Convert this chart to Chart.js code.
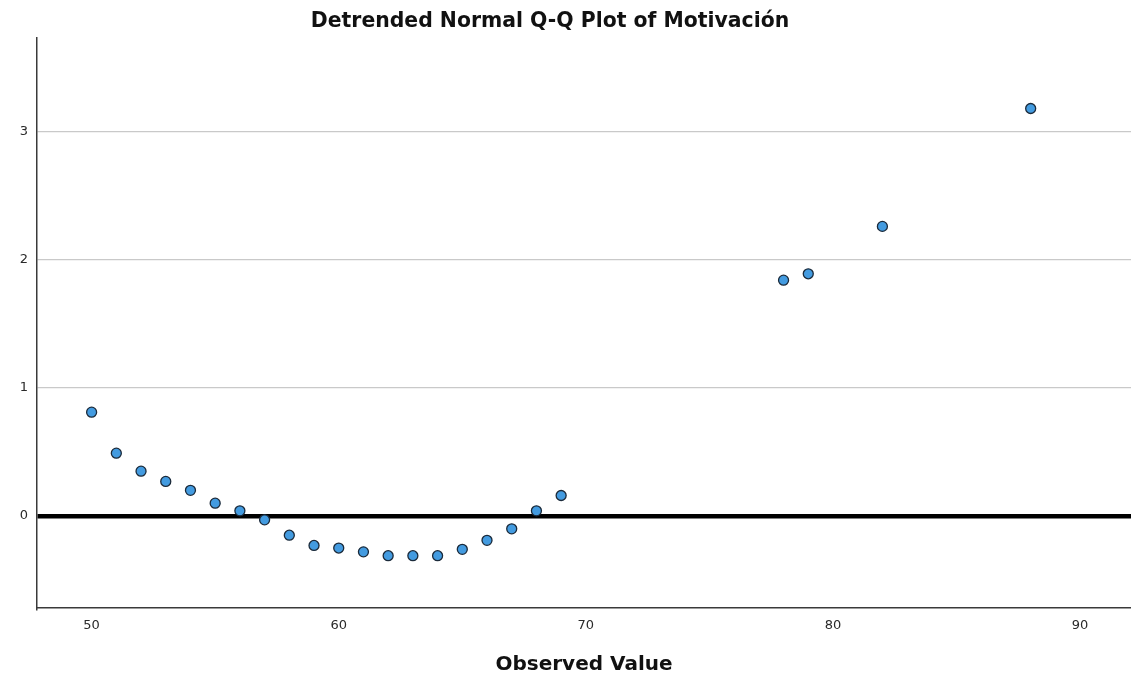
<!DOCTYPE html>
<html>
<head>
<meta charset="utf-8">
<script src="https://cdn.jsdelivr.net/npm/chart.js@4.4.1/dist/chart.umd.min.js"></script>
<style>
  html, body { margin: 0; padding: 0; background: #ffffff; }
  #wrap { width: 1131px; height: 678px; position: relative; }
</style>
</head>
<body>
<div id="wrap"><canvas id="qq" width="1131" height="678"></canvas></div>
<script>
// Observed values of Motivación and their deviation from the normal line
const observedValues = [50, 51, 52, 53, 54, 55, 56, 57, 58, 59, 60, 61, 62, 63, 64, 65, 66, 67, 68, 69, 78, 79, 82, 88];
const deviations = [0.81, 0.49, 0.35, 0.27, 0.20, 0.10, 0.04, -0.03, -0.15, -0.23, -0.25, -0.28, -0.31, -0.31, -0.31, -0.26, -0.19, -0.10, 0.04, 0.16, 1.84, 1.89, 2.26, 3.18];

// Axis tick labels
const xTicks = [50, 60, 70, 80, 90];
const yTicks = [0, 1, 2, 3];

const chartTitle = 'Detrended Normal Q-Q Plot of Motivación';
const xAxisTitle = 'Observed Value';

const points = observedValues.map((v, i) => ({ x: v, y: deviations[i] }));

// Title drawn above the plotting area
const titlePlugin = {
  id: 'topTitle',
  afterDraw(chart) {
    const c = chart.ctx;
    c.save();
    c.font = 'bold 20.4px "DejaVu Sans"';
    c.fillStyle = '#111111';
    c.textAlign = 'center';
    c.textBaseline = 'middle';
    c.fillText(chartTitle, 550, 22);
    c.restore();
  }
};

new Chart(document.getElementById('qq'), {
  type: 'scatter',
  data: {
    datasets: [{
      data: points,
      pointRadius: 5,
      pointHoverRadius: 5,
      pointBackgroundColor: '#439be0',
      pointBorderColor: '#1b2a3a',
      pointBorderWidth: 1.3
    }]
  },
  options: {
    responsive: false,
    animation: false,
    layout: { autoPadding: false, padding: { top: 38, right: 0, left: 0, bottom: 0 } },
    plugins: {
      legend: { display: false },
      tooltip: { enabled: false },
      title: { display: false }
    },
    scales: {
      x: {
        type: 'linear',
        min: 47.79,
        max: 92.06,
        afterBuildTicks(scale) { scale.ticks = xTicks.map(v => ({ value: v })); },
        afterFit(scale) { scale.height = 70; },
        grid: { display: false, drawTicks: false },
        border: { display: true, color: '#3a3a3a', width: 1.5 },
        ticks: {
          padding: 10,
          color: '#2a2a2a',
          font: { family: 'DejaVu Sans', size: 13 },
          maxRotation: 0
        },
        title: {
          display: true,
          text: xAxisTitle,
          color: '#111111',
          font: { family: 'DejaVu Sans', size: 20, weight: 'bold' },
          padding: { top: 0, bottom: 1 }
        }
      },
      y: {
        type: 'linear',
        min: -0.718,
        max: 3.73,
        afterBuildTicks(scale) { scale.ticks = yTicks.map(v => ({ value: v })); },
        afterFit(scale) { scale.width = 37; },
        grid: {
          drawTicks: false,
          color: ctx => (ctx.tick && ctx.tick.value === 0 ? '#000000' : '#c9c9c9'),
          lineWidth: ctx => (ctx.tick && ctx.tick.value === 0 ? 4.5 : 1.2)
        },
        border: { display: true, color: '#3a3a3a', width: 1.5 },
        ticks: {
          padding: 9,
          color: '#2a2a2a',
          font: { family: 'DejaVu Sans', size: 13 }
        }
      }
    }
  },
  plugins: [titlePlugin]
});
</script>
</body>
</html>
